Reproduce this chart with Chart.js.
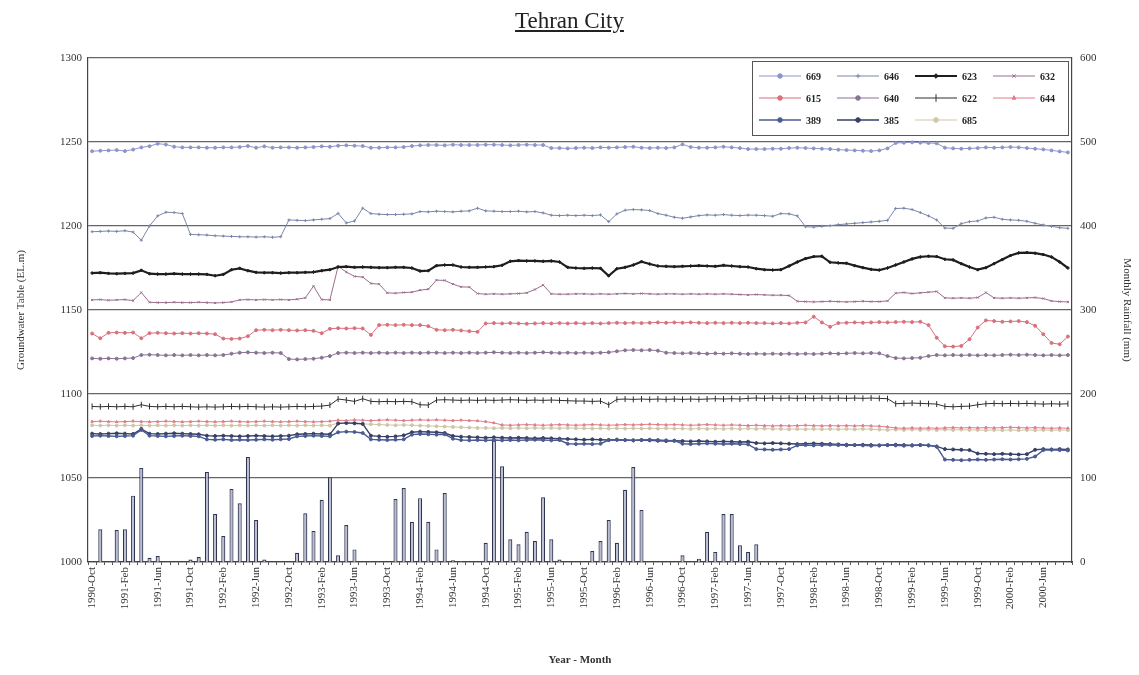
<!DOCTYPE html>
<html>
<head>
<meta charset="utf-8">
<script src="https://cdn.jsdelivr.net/npm/chart.js@4/dist/chart.umd.min.js"></script>
<style>
html, body { margin: 0; padding: 0; background: #fff; }
#wrap { position: relative; width: 1139px; height: 675px; }
#title { position: absolute; left: 0; top: 8px; width: 1139px; text-align: center;
  font-family: 'Liberation Serif', serif; font-size: 23px; color: #222; text-decoration: underline; }
canvas { position: absolute; left: 0; top: 0; }
</style>
</head>
<body>
<div id="wrap">
  <canvas id="c" width="1139" height="675"></canvas>
  <div id="title">Tehran City</div>
</div>
<script>
// monthly, 1990-Oct .. 2000-Sep
var monthNames = ['Jan','Feb','Mar','Apr','May','Jun','Jul','Aug','Sep','Oct','Nov','Dec'];
var months = [];
for (var k = 0; k < 120; k++) {
  var m = 9 + k;
  months.push((1990 + Math.floor(m / 12)) + '-' + monthNames[m % 12]);
}

var rainfall = [
  0,39,0,38,39,79,112,5,7,0,0,0,
  3,6,107,57,31,87,70,125,50,3,0,0,
  0,11,58,37,74,101,8,44,15,0,0,0,
  0,75,88,48,76,48,15,82,2,1,0,0,
  23,145,114,27,21,36,25,77,27,3,0,0,
  0,13,25,50,23,86,113,62,0,0,0,0,
  8,0,4,36,12,57,57,20,12,21,0,0,
  0,0,0,0,0,0,0,0,0,0,0,0,
  0,0,0,0,0,0,0,0,0,0,0,0,
  0,0,0,0,0,0,0,0,0,0,0,0
];

var w669 = [
  1244.5,1244.8,1245,1245.2,1244.6,1245.5,1246.8,1247.5,1249,1248.5,1247.2,1246.8,
  1246.8,1246.8,1246.6,1246.6,1246.8,1246.8,1247,1247.6,1246.6,1247.4,1246.6,1246.8,
  1246.8,1246.6,1246.8,1247,1247.4,1247.2,1247.8,1248,1247.8,1247.6,1246.6,1246.6,
  1246.8,1246.8,1247,1247.6,1248,1248.2,1248.2,1248,1248.4,1248.2,1248.2,1248.2,
  1248.4,1248.4,1248.2,1248,1248.2,1248.4,1248.2,1248.2,1246.4,1246.4,1246.2,1246.4,
  1246.6,1246.4,1246.8,1246.6,1246.8,1247,1247.2,1246.6,1246.4,1246.6,1246.4,1246.8,
  1248.6,1247,1246.6,1246.6,1246.8,1247.2,1246.8,1246.4,1245.8,1245.8,1245.8,1246,
  1246,1246.4,1246.6,1246.4,1246.2,1246,1245.8,1245.4,1245.2,1245,1244.8,1244.6,
  1245,1246.2,1249.4,1249.6,1249.8,1249.6,1249.4,1249.2,1246.6,1246.2,1246,1246.2,
  1246.4,1246.8,1246.6,1246.8,1247,1246.8,1246.4,1246,1245.6,1245,1244.4,1243.8
];
var w646 = [
  1196.6,1196.8,1197,1196.8,1197.2,1196.4,1191.5,1200,1206,1208.2,1208,1207.4,
  1195,1194.8,1194.6,1194.2,1194,1193.8,1193.6,1193.6,1193.4,1193.6,1193.3,1193.6,
  1203.6,1203.4,1203.2,1203.6,1204,1204.4,1207.5,1201.8,1203,1210.6,1207.4,1207,
  1206.8,1206.8,1207,1207.2,1208.6,1208.4,1208.8,1208.6,1208.4,1208.8,1209,1210.6,
  1209,1208.8,1208.6,1208.6,1208.8,1208.4,1208.6,1207.8,1206.4,1206.2,1206.4,1206.2,
  1206.4,1206.2,1206.6,1202.6,1207.2,1209.4,1209.8,1209.6,1209.2,1207.4,1206.4,1205.2,
  1204.6,1205.4,1206.2,1206.6,1206.4,1206.8,1206.4,1206.2,1206.5,1206.4,1206.2,1205.8,
  1207.4,1207.2,1206,1199.6,1199.4,1199.8,1200.2,1200.8,1201.2,1201.6,1202,1202.4,
  1202.8,1203.4,1210.4,1210.6,1209.8,1208,1206,1203.6,1198.8,1198.6,1201.4,1202.6,
  1203,1204.8,1205.2,1204,1203.6,1203.4,1202.8,1201.6,1200.6,1199.8,1199,1198.6
];
var w623 = [
  1172,1172.2,1171.8,1171.6,1171.8,1172,1173.6,1171.6,1171.4,1171.4,1171.6,1171.4,
  1171.4,1171.4,1171.2,1170.4,1171.2,1174,1174.8,1173.4,1172.4,1172.2,1172.2,1172,
  1172.2,1172.2,1172.4,1172.6,1173.4,1174,1175.6,1175.8,1175.4,1175.6,1175.4,1175.2,
  1175.2,1175.4,1175.4,1175,1173.2,1173.4,1176.4,1176.8,1176.8,1175.6,1175.4,1175.4,
  1175.6,1175.8,1176.6,1179,1179.4,1179.2,1179.2,1179,1179.2,1178.6,1175.4,1175,
  1174.8,1175,1174.8,1170.4,1174.6,1175.4,1176.8,1178.8,1177.4,1176.2,1176,1175.8,
  1176,1176.2,1176.4,1176.2,1176,1176.6,1176.2,1175.8,1175.6,1174.6,1174,1173.8,
  1174,1176.2,1178.6,1180.6,1181.8,1182,1178.4,1178,1177.8,1176.4,1175.2,1174.2,
  1173.8,1175,1176.8,1178.6,1180.4,1181.6,1182,1181.8,1180.2,1179.8,1177.6,1175.6,
  1174,1175.2,1177.6,1180,1182.4,1184,1184.2,1183.8,1183,1181.6,1178.6,1175
];
var w632 = [
  1156,1156.2,1155.8,1156,1156.2,1155.6,1160.4,1154.6,1154.4,1154.4,1154.6,1154.4,
  1154.4,1154.6,1154.4,1154.2,1154.4,1154.8,1156,1156.2,1156,1156.2,1156,1156.2,
  1156,1156.4,1157.2,1164.2,1156.2,1156,1176,1172.6,1170,1169.6,1165.8,1165.4,
  1160.2,1160,1160.4,1160.6,1161.8,1162.4,1167.8,1167.6,1165.4,1163.8,1163.6,1159.8,
  1159.4,1159.6,1159.4,1159.6,1159.8,1160.2,1162.2,1164.8,1159.6,1159.4,1159.4,1159.6,
  1159.6,1159.4,1159.6,1159.4,1159.6,1159.8,1159.6,1159.8,1159.6,1159.4,1159.6,1159.6,
  1159.4,1159.6,1159.4,1159.6,1159.4,1159.6,1159.4,1159.2,1159,1159.2,1159,1158.8,
  1158.8,1158.6,1155.2,1155,1154.8,1155,1155.2,1155,1154.8,1155,1155.2,1155,
  1155,1155.4,1160,1160.4,1159.8,1160.2,1160.6,1161,1157.2,1157,1157.2,1157,
  1157.4,1160.4,1157.2,1157,1157.2,1157,1157.2,1157.4,1156.8,1155.4,1155,1154.8
];
var w615 = [
  1136,1133.2,1136.4,1136.6,1136.4,1136.6,1133.2,1136.2,1136.4,1136.2,1136,1136.2,
  1136,1136.2,1136,1135.6,1133,1132.8,1133,1134.4,1138,1138.2,1138,1138.2,
  1138,1137.8,1138,1137.6,1136.2,1138.8,1139.2,1139,1139.2,1139,1135.2,1141,
  1141.2,1141,1141.2,1141,1141,1140.4,1138.2,1138,1138.2,1137.8,1137.4,1137,
  1142,1142.2,1142,1142.2,1142,1141.8,1142,1142.2,1142,1142.2,1142,1142.2,
  1142,1142.2,1142,1142.2,1142.4,1142.2,1142.4,1142.2,1142.4,1142.6,1142.4,1142.6,
  1142.4,1142.6,1142.4,1142.2,1142.4,1142.2,1142.4,1142.2,1142.4,1142.2,1142.2,1142,
  1142.2,1142,1142.4,1142.6,1146,1142.6,1140,1142.2,1142.4,1142.6,1142.4,1142.6,
  1142.8,1142.6,1142.8,1143,1142.8,1143,1141,1133.5,1128.4,1128.2,1128.6,1132.6,
  1139.6,1143.8,1143.4,1143,1143.2,1143.4,1142.8,1140.6,1135.6,1130.4,1129.6,1134.2
];
var w640 = [
  1121.2,1121,1121.2,1121,1121.2,1121.4,1123.2,1123.4,1123.2,1123,1123.2,1123,
  1123.2,1123,1123.2,1123,1123.2,1124,1124.6,1124.8,1124.6,1124.4,1124.6,1124.4,
  1120.8,1120.6,1120.8,1121,1121.6,1122.6,1124.4,1124.6,1124.4,1124.6,1124.4,1124.6,
  1124.4,1124.6,1124.4,1124.6,1124.4,1124.6,1124.6,1124.4,1124.6,1124.4,1124.6,1124.4,
  1124.6,1124.8,1124.6,1124.4,1124.6,1124.4,1124.6,1124.8,1124.6,1124.4,1124.6,1124.4,
  1124.6,1124.4,1124.6,1124.8,1125.4,1126,1126.2,1126,1126.2,1125.8,1124.6,1124.4,
  1124.2,1124.4,1124.2,1124,1124.2,1124,1124.2,1124,1123.8,1124,1123.8,1124,
  1123.8,1124,1123.8,1124,1123.8,1124,1124.2,1124,1124.2,1124.4,1124.2,1124.4,
  1124.2,1122.6,1121.4,1121.2,1121.4,1121.6,1122.6,1123.2,1123,1123.2,1123,1123.2,
  1123,1123.2,1123,1123.2,1123.4,1123.2,1123.4,1123.2,1123,1123.2,1123,1123.2
];
var w622 = [
  1092.6,1092.4,1092.6,1092.4,1092.6,1092.4,1093.6,1092.6,1092.4,1092.6,1092.4,1092.6,
  1092.4,1092.2,1092.4,1092.2,1092.4,1092.6,1092.4,1092.6,1092.4,1092.2,1092.4,1092.2,
  1092.4,1092.6,1092.4,1092.6,1092.8,1093.4,1097,1096.4,1095.6,1097.2,1095.6,1095.4,
  1095.6,1095.4,1095.6,1095.4,1093.6,1093.4,1096.4,1096.6,1096.4,1096.2,1096.4,1096.2,
  1096.4,1096.2,1096.4,1096.6,1096.4,1096.2,1096.4,1096.2,1096.4,1096.2,1096,1095.8,
  1095.8,1095.6,1095.8,1093.6,1096.8,1097,1096.8,1097,1096.8,1097,1096.8,1097,
  1096.8,1097,1096.8,1097,1097.2,1097,1097.2,1097,1097.4,1097.6,1097.4,1097.6,
  1097.4,1097.6,1097.4,1097.6,1097.4,1097.6,1097.4,1097.6,1097.4,1097.6,1097.4,1097.6,
  1097.4,1097.2,1094.2,1094.4,1094.6,1094.4,1094.2,1094,1092.6,1092.4,1092.6,1092.8,
  1093.6,1094.2,1094.4,1094.2,1094.4,1094.2,1094.4,1094.2,1094,1094.2,1094,1094.2
];
var w644 = [
  1083.6,1083.8,1083.6,1083.4,1083.6,1083.8,1083.6,1083.4,1083.6,1083.8,1083.6,1083.4,
  1083.6,1083.8,1083.6,1083.4,1083.6,1083.8,1083.6,1083.4,1083.6,1083.8,1083.6,1083.4,
  1083.6,1083.8,1083.6,1083.4,1083.6,1083.8,1084.4,1084.2,1084.6,1084.4,1084.2,1084.4,
  1084.6,1084.4,1084.2,1084.4,1084.6,1084.4,1084.6,1084.4,1084.2,1084.4,1084.2,1084,
  1083.6,1082.8,1081.6,1081.4,1081.6,1081.8,1081.6,1081.4,1081.6,1081.8,1081.6,1081.4,
  1081.6,1081.8,1081.6,1081.4,1081.6,1081.8,1081.6,1081.8,1082,1081.8,1081.6,1081.8,
  1081.6,1081.4,1081.6,1081.8,1081.6,1081.4,1081.6,1081.4,1081.2,1081.4,1081.2,1081,
  1081.2,1081,1081.2,1081.4,1081.2,1081,1081.2,1081,1081.2,1081,1081.2,1081,
  1080.8,1080.4,1079.8,1079.6,1079.8,1079.6,1079.8,1079.6,1079.8,1080,1079.8,1080,
  1079.8,1080,1079.8,1080,1080.2,1080,1079.8,1080,1079.8,1079.6,1079.8,1079.6
];
var w389 = [
  1075,1075.2,1075,1074.8,1075,1075.2,1078.6,1075.2,1075,1074.8,1075,1075.2,
  1075,1074.8,1073,1072.8,1073,1072.6,1072.8,1072.6,1072.8,1073,1072.8,1073,
  1073.2,1074.8,1075,1075.2,1075,1074.8,1077.2,1077.6,1077.4,1076.8,1073,1072.8,
  1072.6,1072.8,1073,1075.8,1076.2,1076,1075.8,1076,1073.4,1072.6,1072.4,1072.6,
  1072.4,1072.6,1072.4,1072.6,1072.4,1072.6,1072.8,1072.6,1072.4,1072.6,1070.4,1070.2,
  1070.4,1070.2,1070.4,1072.6,1072.8,1072.6,1072.4,1072.6,1072.8,1072.6,1072.4,1072.2,
  1070.4,1070.2,1070.4,1070.6,1070.4,1070.2,1070.4,1070.2,1070,1067.2,1067,1066.8,
  1067,1067.2,1069.4,1069.6,1069.4,1069.6,1069.8,1069.6,1069.4,1069.6,1069.4,1069.2,
  1069.4,1069.6,1069.4,1069.2,1069.4,1069.6,1069.4,1068.6,1061,1060.8,1060.6,1060.8,
  1061,1060.8,1061,1061.2,1061,1061.2,1061.4,1062.8,1066.6,1066.8,1066.6,1066.4
];
var w385 = [
  1076.4,1076.2,1076.4,1076.6,1076.4,1076.2,1079.2,1076.4,1076.2,1076.4,1076.6,1076.4,
  1076.2,1076,1075.2,1075,1075.2,1075,1074.8,1075,1075.2,1075,1074.8,1075,
  1075.2,1076,1076.2,1076.4,1076.2,1076,1082.4,1082.8,1082.6,1082.2,1075.2,1074.8,
  1074.6,1074.8,1075.4,1077.2,1077.6,1077.4,1077.2,1076.8,1075,1074.6,1074.4,1074.2,
  1074,1074.2,1074,1073.8,1074,1073.8,1073.6,1073.8,1073.6,1073.4,1073.2,1073,
  1072.8,1073,1072.8,1072.6,1072.8,1072.6,1072.4,1072.6,1072.4,1072.2,1072,1072.2,
  1072,1071.8,1072,1071.8,1071.6,1071.8,1071.6,1071.4,1071.6,1070.8,1070.6,1070.8,
  1070.6,1070.4,1070.2,1070.4,1070.6,1070.4,1070.2,1070,1069.8,1069.6,1069.8,1069.6,
  1069.4,1069.6,1069.8,1069.6,1069.4,1069.6,1069.4,1068.8,1067.2,1067,1066.8,1066.6,
  1064.6,1064.4,1064.2,1064.4,1064.2,1064,1064.2,1066.8,1067.2,1067,1067.2,1067
];
var w685 = [
  1081.4,1081.2,1081.4,1081.2,1081.4,1081.2,1081.4,1081.2,1081.4,1081.2,1081.4,1081.2,
  1081.4,1081.2,1081.4,1081.2,1081.4,1081.2,1081.4,1081.2,1081.4,1081.2,1081.4,1081.2,
  1081.4,1081.2,1081.4,1081.2,1081.4,1081.2,1082.8,1082.6,1082.4,1082.2,1082,1081.8,
  1081.6,1081.4,1081.6,1081.4,1081.2,1081,1080.8,1080.6,1080.4,1080.2,1080,1079.8,
  1079.8,1079.6,1079.8,1079.6,1079.8,1079.6,1079.8,1079.6,1079.8,1079.6,1079.8,1079.6,
  1079.6,1079.4,1079.6,1079.4,1079.6,1079.4,1079.6,1079.4,1079.6,1079.4,1079.6,1079.4,
  1079.4,1079.2,1079.4,1079.2,1079.4,1079.2,1079.4,1079.2,1079.4,1079.2,1079.4,1079.2,
  1079.2,1079,1079.2,1079,1079.2,1079,1079.2,1079,1079.2,1079,1079.2,1079,
  1078.8,1078.6,1078.8,1078.6,1078.8,1078.6,1078.8,1078.6,1078.8,1078.6,1078.8,1078.6,
  1078.6,1078.4,1078.6,1078.4,1078.6,1078.4,1078.6,1078.4,1078.6,1078.4,1078.6,1078.4
];

var wellNames = ['669','646','623','632','615','640','622','644','389','385','685'];
var wellLevels = [w669, w646, w623, w632, w615, w640, w622, w644, w389, w385, w685];
var wellColors = ['#8d95c9','#7c86aa','#1e1e1e','#9b6d8e','#d9707e','#8a7392','#2e2e2e','#e07c8c','#4b5b92','#363f66','#cfc6a6'];
var wellStyles = ['circle','cross','rectRot','crossRot','circle','circle','line','triangle','circle','circle','circle'];
var wellWidths = [1, 1, 2.2, 1, 1, 1, 1, 1, 1.4, 1.4, 1];

var datasets = [];
for (var i = 0; i < wellNames.length; i++) {
  datasets.push({
    type: 'line',
    label: wellNames[i],
    data: wellLevels[i],
    yAxisID: 'y',
    borderColor: wellColors[i],
    backgroundColor: wellColors[i],
    borderWidth: wellWidths[i],
    pointStyle: wellStyles[i],
    pointRotation: wellStyles[i] === 'line' ? 90 : 0,
    pointRadius: wellStyles[i] === 'line' ? 3 : 1.5,
    pointBorderWidth: 1,
    tension: 0,
    order: 1
  });
}
datasets.push({
  type: 'bar',
  label: 'Rainfall',
  data: rainfall,
  yAxisID: 'y1',
  backgroundColor: '#b9bdd0',
  borderColor: '#2f3452',
  borderWidth: 1.2,
  barPercentage: 0.55,
  categoryPercentage: 0.9,
  order: 20
});

var serif = "'Liberation Serif', 'DejaVu Serif', serif";

var boxLegend = {
  id: 'boxLegend',
  afterDatasetsDraw: function(chart) {
    var ctx = chart.ctx, a = chart.chartArea;
    var x0 = a.right - 320, y0 = a.top + 3, w = 316, h = 74;
    ctx.save();
    ctx.fillStyle = '#fff';
    ctx.fillRect(x0, y0, w, h);
    ctx.strokeStyle = '#555';
    ctx.lineWidth = 1;
    ctx.strokeRect(x0 + 0.5, y0 + 0.5, w, h);
    ctx.font = 'bold 10px ' + serif;
    ctx.textBaseline = 'middle';
    var lines = chart.data.datasets.filter(function(d) { return d.type === 'line'; });
    lines.forEach(function(d, k) {
      var col = k % 4, row = Math.floor(k / 4);
      var sx = x0 + 7 + col * 78, sy = y0 + 15 + row * 22;
      ctx.strokeStyle = d.borderColor;
      ctx.fillStyle = d.borderColor;
      ctx.lineWidth = d.borderWidth;
      ctx.beginPath();
      ctx.moveTo(sx, sy);
      ctx.lineTo(sx + 42, sy);
      ctx.stroke();
      ctx.lineWidth = 1;
      Chart.helpers.drawPoint(ctx, {pointStyle: d.pointStyle, radius: d.pointRadius + 0.8,
        rotation: d.pointRotation, borderWidth: 1}, sx + 21, sy);
      ctx.fillStyle = '#222';
      ctx.fillText(d.label, sx + 47, sy + 1);
    });
    ctx.restore();
  }
};

new Chart(document.getElementById('c'), {
  type: 'bar',
  data: { labels: months, datasets: datasets },
  plugins: [boxLegend],
  options: {
    responsive: false,
    animation: false,
    devicePixelRatio: 1,
    layout: { padding: { top: 58, left: 0, right: 0, bottom: 0 } },
    plugins: { legend: { display: false }, tooltip: { enabled: false } },
    scales: {
      x: {
        afterFit: function(s) { s.height = 113; },
        grid: { display: true, drawOnChartArea: false, tickLength: 3, color: '#555' },
        border: { color: '#444', width: 1.2 },
        ticks: {
          autoSkip: false, maxRotation: 90, minRotation: 90, padding: 2,
          color: '#333', font: { family: serif, size: 11 },
          callback: function(v, idx) { return idx % 4 === 0 ? this.getLabelForValue(v) : ''; }
        },
        title: { display: true, text: 'Year - Month', color: '#333',
          font: { family: serif, size: 11, weight: 'bold' }, padding: { top: 0, bottom: 8 } }
      },
      y: {
        position: 'left',
        min: 1000, max: 1300,
        afterFit: function(s) { s.width = 88; },
        grid: { color: '#666', lineWidth: 1.2, drawTicks: false },
        border: { color: '#444', width: 1.2 },
        ticks: { stepSize: 50, padding: 6, color: '#333', font: { family: serif, size: 11 },
          callback: function(v) { return String(v); } },
        title: { display: true, text: 'Groundwater Table (EL.m)', color: '#333',
          font: { family: serif, size: 11 }, padding: { top: 15, bottom: 0 } }
      },
      y1: {
        position: 'right',
        min: 0, max: 600,
        afterFit: function(s) { s.width = 67; },
        grid: { display: false, drawTicks: false },
        border: { color: '#444', width: 1.2 },
        ticks: { stepSize: 100, padding: 8, color: '#333', font: { family: serif, size: 11 },
          callback: function(v) { return String(v); } },
        title: { display: true, text: 'Monthly Rainfall (mm)', color: '#333',
          font: { family: serif, size: 11 }, padding: { top: 6, bottom: 0 } }
      }
    }
  }
});
</script>
</body>
</html>
